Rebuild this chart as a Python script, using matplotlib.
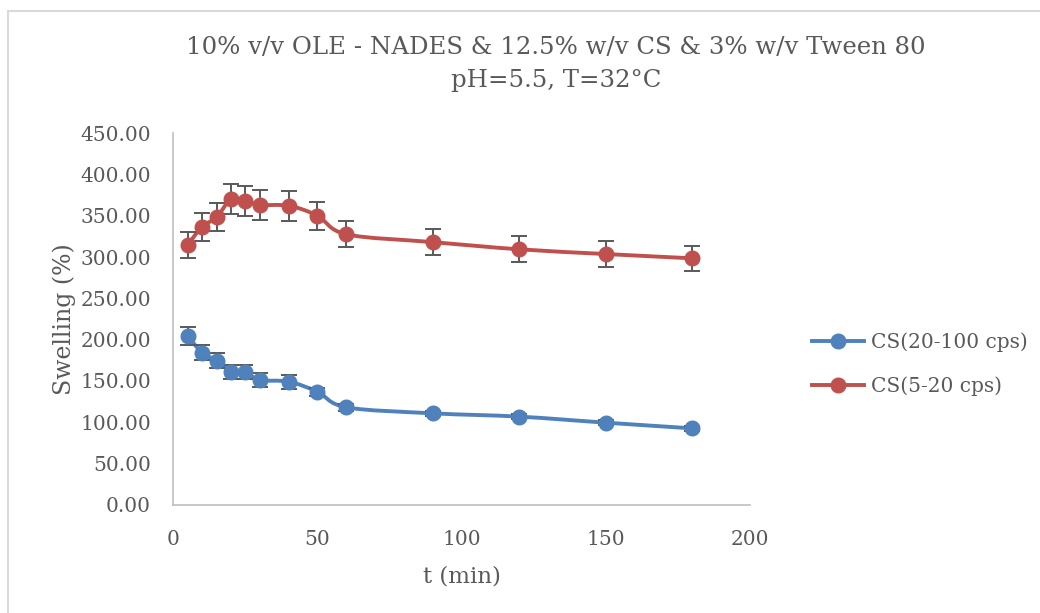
import numpy as np
import matplotlib
matplotlib.use("Agg")
import matplotlib.pyplot as plt
from matplotlib.path import Path
from matplotlib.patches import PathPatch, Rectangle
from matplotlib.lines import Line2D

# Sampling times (min)
t_min = [5, 10, 15, 20, 25, 30, 40, 50, 60, 90, 120, 150, 180]

# Swelling (%) and standard deviations
swell_20_100 = [204.4, 184.3, 174.6, 161.3, 160.5, 151.2, 149.2, 137.0, 118.2, 110.9, 106.9, 99.6, 92.7]
err_20_100 = [10.5, 9.0, 9.0, 8.5, 8.5, 8.5, 8.5, 5.0, 4.0, 3.0, 3.0, 3.0, 3.0]

swell_5_20 = [314.5, 336.7, 348.0, 370.0, 368.0, 363.0, 362.0, 350.0, 327.5, 318.0, 309.3, 303.6, 298.4]
err_5_20 = [15.6, 17.0, 17.0, 18.5, 18.0, 18.0, 18.0, 17.0, 16.0, 16.0, 15.5, 15.3, 15.0]

labels = ["CS(20-100 cps)", "CS(5-20 cps)"]
colors = ["#4F81BD", "#C0504D"]

title_lines = ["10% v/v OLE - NADES & 12.5% w/v CS & 3% w/v Tween 80",
               "pH=5.5, T=32\u00b0C"]
x_label = "t (min)"
y_label = "Swelling (%)"
x_ticks = [0, 50, 100, 150, 200]
y_ticks = [0, 50, 100, 150, 200, 250, 300, 350, 400, 450]

TEXT = "#595959"
FONT = "DejaVu Serif"
plt.rcParams["font.family"] = FONT


def smooth_path(x, y):
    """Cubic Bezier path through the points (Catmull-Rom style tangents)."""
    x = np.asarray(x, float)
    y = np.asarray(y, float)
    n = len(x)
    verts = [(x[0], y[0])]
    codes = [Path.MOVETO]
    for i in range(n - 1):
        i0 = max(i - 1, 0)
        i3 = min(i + 2, n - 1)
        c1 = (x[i] + (x[i + 1] - x[i0]) / 6.0, y[i] + (y[i + 1] - y[i0]) / 6.0)
        c2 = (x[i + 1] - (x[i3] - x[i]) / 6.0, y[i + 1] - (y[i3] - y[i]) / 6.0)
        verts += [c1, c2, (x[i + 1], y[i + 1])]
        codes += [Path.CURVE4] * 3
    return Path(verts, codes)


fig = plt.figure(figsize=(10.4, 6.13), dpi=100)
fig.patch.set_facecolor("white")

# Light outer border of the chart area
fig.patches.append(Rectangle((8 / 1040, -0.05), 1.1, 1 - 11 / 613 + 0.05,
                             transform=fig.transFigure, fill=False,
                             edgecolor="#D9D9D9", linewidth=1.5))

ax = fig.add_axes([173.3 / 1040, 1 - 505 / 613, (750 - 173.3) / 1040, (505 - 133) / 613])
ax.set_xlim(0, 200)
ax.set_ylim(0, 450)

series = [(swell_20_100, err_20_100), (swell_5_20, err_5_20)]
for (vals, errs), col in zip(series, colors):
    ax.add_patch(PathPatch(smooth_path(t_min, vals), facecolor="none",
                           edgecolor=col, linewidth=2.8, capstyle="round", zorder=2))
    ax.errorbar(t_min, vals, yerr=errs, fmt="none", ecolor="#595959",
                elinewidth=1.4, capsize=5.5, capthick=1.4, zorder=3)
    ax.plot(t_min, vals, linestyle="none", marker="o", markersize=10.5,
            markerfacecolor=col, markeredgecolor=col, zorder=4)

ax.set_xticks(x_ticks)
ax.set_yticks(y_ticks)
ax.set_xticklabels([str(v) for v in x_ticks])
ax.set_yticklabels([f"{v:.2f}" for v in y_ticks])
ax.tick_params(axis="both", length=0, labelsize=14.5, colors=TEXT)
ax.tick_params(axis="y", pad=16)
ax.tick_params(axis="x", pad=18)
for s in ["top", "right"]:
    ax.spines[s].set_visible(False)
for s in ["left", "bottom"]:
    ax.spines[s].set_color("#BFBFBF")
    ax.spines[s].set_linewidth(1.2)

ax.set_xlabel(x_label, fontsize=16.5, color=TEXT, labelpad=12)
ax.set_ylabel(y_label, fontsize=17, color=TEXT, labelpad=3)

fig.text(556 / 1040, 1 - 47 / 613, title_lines[0], ha="center", va="center",
         fontsize=17.6, color=TEXT)
fig.text(556 / 1040, 1 - 81 / 613, title_lines[1], ha="center", va="center",
         fontsize=17.6, color=TEXT)

handles = [Line2D([], [], color=c, linewidth=2.8, marker="o", markersize=10.5)
           for c in colors]
leg = fig.legend(handles, labels, loc="center left",
                 bbox_to_anchor=(794 / 1040, 1 - 364 / 613), frameon=False,
                 fontsize=14.5, labelcolor=TEXT, handlelength=2.6,
                 handletextpad=0.3, labelspacing=1.2)

fig.savefig("out.png", dpi=100, facecolor="white")
